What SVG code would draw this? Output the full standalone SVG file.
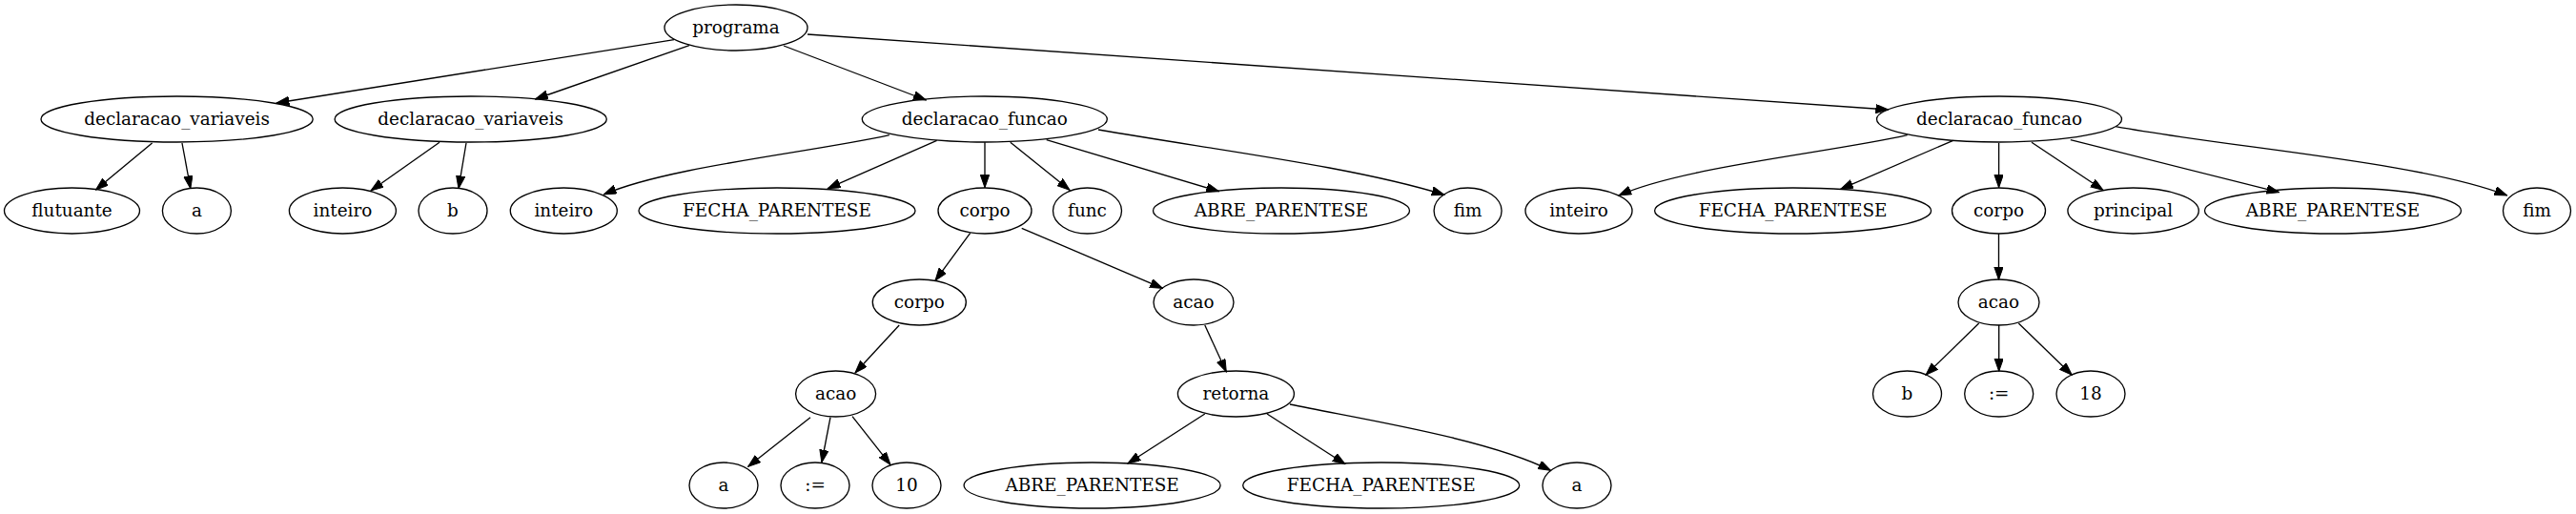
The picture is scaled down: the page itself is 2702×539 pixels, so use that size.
<svg xmlns="http://www.w3.org/2000/svg" width="2702" height="539" viewBox="0 0 2702 539">
<style>
.n ellipse{fill:none;stroke:#000;stroke-width:1.33}
.n text{font-family:"DejaVu Serif","Liberation Serif",serif;font-size:18.4px;text-anchor:middle;fill:#000}
#edges path{fill:none;stroke:#000;stroke-width:1.33;marker-end:url(#arr)}
</style>
<defs>
<marker id="arr" markerWidth="14" markerHeight="10" refX="13.3" refY="4.67" orient="auto" markerUnits="userSpaceOnUse">
<path d="M0,0 L13.3,4.67 L0,9.33 z" fill="#000" stroke="#000" stroke-width="1"/>
</marker>
</defs>
<rect width="2702" height="539" fill="#fff"/>
<g id="edges">
<path d="M707,41.7 L290,108"/>
<path d="M723,47.7 L561.4,104"/>
<path d="M822,48 L971.4,105"/>
<path d="M847,36 L1980.7,115"/>
<path d="M159.6,150 L100.5,199"/>
<path d="M191,150 L199.8,197.7"/>
<path d="M461,149.3 L389,200"/>
<path d="M489,150 L481,197.7"/>
<path d="M932.8,141.7 C850,160 700,175 633.3,204"/>
<path d="M982.6,147.3 L868.3,197.7"/>
<path d="M1033,149.3 L1033,196.7"/>
<path d="M1059.8,149.3 L1122,199.3"/>
<path d="M1097.7,146.7 L1278.7,200.7"/>
<path d="M1152,136 C1280,158 1420,175 1515,204.3"/>
<path d="M1017.7,244.3 L981,294.3"/>
<path d="M1071.7,239.3 L1219.6,302.3"/>
<path d="M943.2,341 L897,391"/>
<path d="M1263.8,341 L1286.3,390"/>
<path d="M850,437.7 L784.7,489.3"/>
<path d="M871,437.7 L861.9,485"/>
<path d="M894,436.7 L934,487.3"/>
<path d="M1263.8,434 L1183,486"/>
<path d="M1329,434 L1411,486.7"/>
<path d="M1353,424 C1430,440 1560,460 1626.5,493.3"/>
<path d="M2000.6,141.7 C1920,160 1765,175 1698,205"/>
<path d="M2048.7,147.3 L1930.6,198.3"/>
<path d="M2096.6,150 L2096.6,196.7"/>
<path d="M2131,149.3 L2206,199.3"/>
<path d="M2171.8,146.7 L2390.7,201.7"/>
<path d="M2219,132.7 C2340,155 2540,170 2629.7,205"/>
<path d="M2096.5,245 L2096.5,293.3"/>
<path d="M2075.7,339 L2020,393.3"/>
<path d="M2096.7,340.7 L2096.7,389.3"/>
<path d="M2117.3,339 L2173.3,393.3"/>
</g>
<g id="n0" class="n"><ellipse cx="772" cy="29" rx="75" ry="24"/><text x="772" y="35">programa</text></g>
<g id="n1" class="n"><ellipse cx="185.6" cy="125" rx="142.6" ry="24"/><text x="185.6" y="131">declaracao_variaveis</text></g>
<g id="n2" class="n"><ellipse cx="75.5" cy="221" rx="71" ry="24"/><text x="75.5" y="227">flutuante</text></g>
<g id="n3" class="n"><ellipse cx="206.4" cy="221" rx="36" ry="24"/><text x="206.4" y="227">a</text></g>
<g id="n4" class="n"><ellipse cx="493.7" cy="125" rx="142.6" ry="24"/><text x="493.7" y="131">declaracao_variaveis</text></g>
<g id="n5" class="n"><ellipse cx="359.4" cy="221" rx="56" ry="24"/><text x="359.4" y="227">inteiro</text></g>
<g id="n6" class="n"><ellipse cx="475" cy="221" rx="36" ry="24"/><text x="475" y="227">b</text></g>
<g id="n7" class="n"><ellipse cx="1032.8" cy="125" rx="128.5" ry="24"/><text x="1032.8" y="131">declaracao_funcao</text></g>
<g id="n8" class="n"><ellipse cx="591.3" cy="221" rx="56" ry="24"/><text x="591.3" y="227">inteiro</text></g>
<g id="n9" class="n"><ellipse cx="815" cy="221" rx="145" ry="24"/><text x="815" y="227">FECHA_PARENTESE</text></g>
<g id="n10" class="n"><ellipse cx="1033" cy="221" rx="49" ry="24"/><text x="1033" y="227">corpo</text></g>
<g id="n11" class="n"><ellipse cx="1140.5" cy="221" rx="36" ry="24"/><text x="1140.5" y="227">func</text></g>
<g id="n12" class="n"><ellipse cx="1344" cy="221" rx="134.5" ry="24"/><text x="1344" y="227">ABRE_PARENTESE</text></g>
<g id="n13" class="n"><ellipse cx="1539.6" cy="221" rx="35.5" ry="24"/><text x="1539.6" y="227">fim</text></g>
<g id="n14" class="n"><ellipse cx="964.3" cy="317" rx="49" ry="24"/><text x="964.3" y="323">corpo</text></g>
<g id="n15" class="n"><ellipse cx="876.6" cy="413" rx="42" ry="24"/><text x="876.6" y="419">acao</text></g>
<g id="n16" class="n"><ellipse cx="759" cy="509" rx="36" ry="24"/><text x="759" y="515">a</text></g>
<g id="n17" class="n"><ellipse cx="855" cy="509" rx="36" ry="24"/><text x="855" y="515">:=</text></g>
<g id="n18" class="n"><ellipse cx="951" cy="509" rx="36" ry="24"/><text x="951" y="515">10</text></g>
<g id="n19" class="n"><ellipse cx="1252" cy="317" rx="42" ry="24"/><text x="1252" y="323">acao</text></g>
<g id="n20" class="n"><ellipse cx="1296.4" cy="413" rx="61" ry="24"/><text x="1296.4" y="419">retorna</text></g>
<g id="n21" class="n"><ellipse cx="1145.6" cy="509" rx="134.5" ry="24"/><text x="1145.6" y="515">ABRE_PARENTESE</text></g>
<g id="n22" class="n"><ellipse cx="1448.7" cy="509" rx="145" ry="24"/><text x="1448.7" y="515">FECHA_PARENTESE</text></g>
<g id="n23" class="n"><ellipse cx="1654" cy="509" rx="36" ry="24"/><text x="1654" y="515">a</text></g>
<g id="n24" class="n"><ellipse cx="2097" cy="125" rx="128.5" ry="24"/><text x="2097" y="131">declaracao_funcao</text></g>
<g id="n25" class="n"><ellipse cx="1656" cy="221" rx="56" ry="24"/><text x="1656" y="227">inteiro</text></g>
<g id="n26" class="n"><ellipse cx="1880.6" cy="221" rx="145" ry="24"/><text x="1880.6" y="227">FECHA_PARENTESE</text></g>
<g id="n27" class="n"><ellipse cx="2096.5" cy="221" rx="49" ry="24"/><text x="2096.5" y="227">corpo</text></g>
<g id="n28" class="n"><ellipse cx="2237.6" cy="221" rx="68.7" ry="24"/><text x="2237.6" y="227">principal</text></g>
<g id="n29" class="n"><ellipse cx="2447" cy="221" rx="134.5" ry="24"/><text x="2447" y="227">ABRE_PARENTESE</text></g>
<g id="n30" class="n"><ellipse cx="2661" cy="221" rx="35.5" ry="24"/><text x="2661" y="227">fim</text></g>
<g id="n31" class="n"><ellipse cx="2096.5" cy="317" rx="42.5" ry="24"/><text x="2096.5" y="323">acao</text></g>
<g id="n32" class="n"><ellipse cx="2000.5" cy="413" rx="36" ry="24"/><text x="2000.5" y="419">b</text></g>
<g id="n33" class="n"><ellipse cx="2096.7" cy="413" rx="36" ry="24"/><text x="2096.7" y="419">:=</text></g>
<g id="n34" class="n"><ellipse cx="2193" cy="413" rx="36" ry="24"/><text x="2193" y="419">18</text></g>
</svg>
